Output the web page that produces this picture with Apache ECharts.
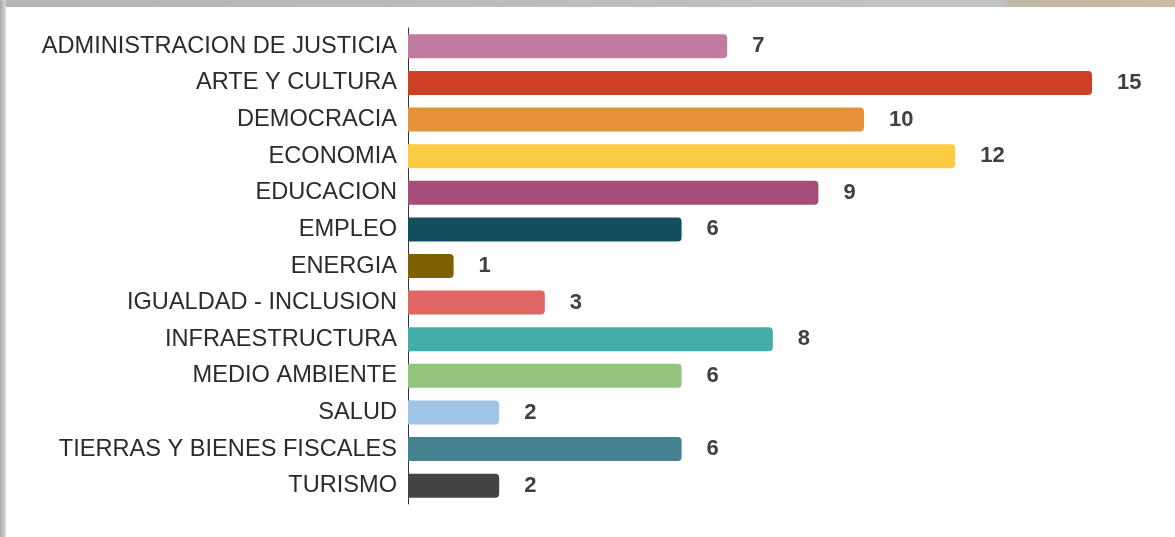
<!DOCTYPE html>
<html>
<head>
<meta charset="utf-8">
<script src="https://cdn.jsdelivr.net/npm/echarts@6/dist/echarts.min.js"></script>
<style>
html,body{margin:0;padding:0;background:#fff;}
#wrap{position:relative;width:1175px;height:537px;overflow:hidden;}
#chart{position:absolute;left:0;top:0;width:1175px;height:537px;}
#topband{position:absolute;left:0;top:0;width:1175px;height:7px;background:linear-gradient(to right,#b4b4b4 0%,#c4c4c4 85%,#c2b6a4 86%,#c8bca8 100%);}
#leftband{position:absolute;left:0;top:0;width:6px;height:537px;background:linear-gradient(to right,#a8a8a8,#d8d8d8);}
</style>
</head>
<body>
<div id="wrap">
<div id="chart"></div>
<div id="topband"></div>
<div id="leftband"></div>
</div>
<script>
const categories = ["ADMINISTRACION DE JUSTICIA","ARTE Y CULTURA","DEMOCRACIA","ECONOMIA","EDUCACION","EMPLEO","ENERGIA","IGUALDAD - INCLUSION","INFRAESTRUCTURA","MEDIO AMBIENTE","SALUD","TIERRAS Y BIENES FISCALES","TURISMO"];
const values = [7,15,10,12,9,6,1,3,8,6,2,6,2];
const colors = ["#c27ba0","#cc4125","#e69138","#fbcb43","#a64d79","#134f5c","#7f6000","#e06666","#45ada8","#93c47d","#9fc5e8","#45818e","#434343"];

const chart = echarts.init(document.getElementById('chart'), null, {renderer:'canvas'});
chart.setOption({
  animation:false,
  backgroundColor:'#ffffff',
  grid:{left:408,right:83,top:28,bottom:33,containLabel:false},
  xAxis:{type:'value',min:0,max:15,show:false},
  yAxis:{
    type:'category',
    data:categories,
    inverse:true,
    axisLine:{show:true,lineStyle:{color:'#333',width:1}},
    axisTick:{show:false},
    axisLabel:{color:'#2b2b2b',fontSize:23.6,fontFamily:'Liberation Sans, Arial, sans-serif',margin:11}
  },
  series:[{
    type:'bar',
    barWidth:24,
    data:values.map((v,i)=>({value:v,itemStyle:{color:colors[i]}})),
    itemStyle:{borderRadius:[0,4,4,0]},
    label:{show:true,position:'right',distance:25,color:'#404040',fontSize:22,fontWeight:'bold',fontFamily:'Liberation Sans, Arial, sans-serif'}
  }]
});
</script>
</body>
</html>
